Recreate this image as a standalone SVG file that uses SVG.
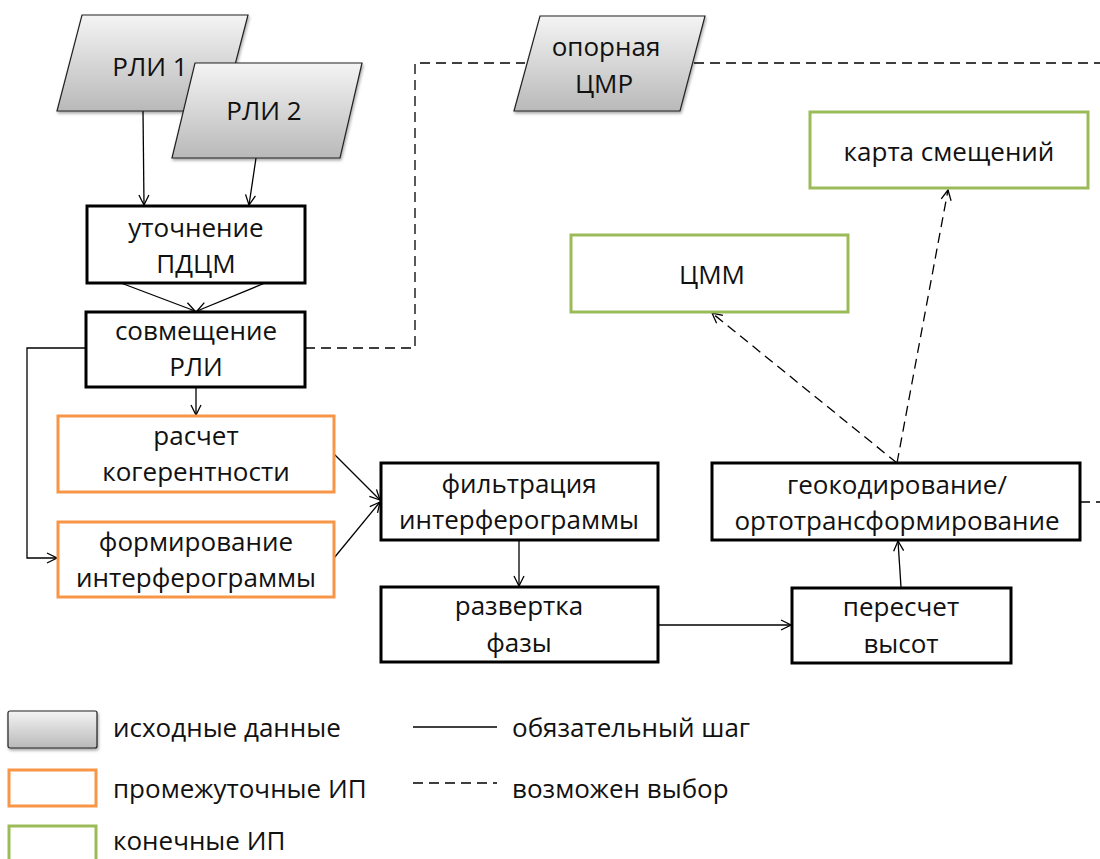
<svg xmlns="http://www.w3.org/2000/svg" width="1100" height="859" viewBox="0 0 1100 859">
<defs>
<linearGradient id="gray" x1="0" y1="0" x2="0" y2="1">
<stop offset="0" stop-color="#f4f4f4"/>
<stop offset="1" stop-color="#b9b9b9"/>
</linearGradient>
<filter id="sh" x="-10%" y="-10%" width="130%" height="130%">
<feDropShadow dx="1" dy="2" stdDeviation="1.5" flood-color="#000" flood-opacity="0.35"/>
</filter>
<marker id="ah" viewBox="0 0 12 12" refX="11" refY="6" markerWidth="12" markerHeight="12" markerUnits="userSpaceOnUse" orient="auto">
<path d="M1,1 L11,6 L1,11" fill="none" stroke="#000" stroke-width="1.3"/>
</marker>
</defs>
<style>
text{font-family:"Open Sans","Liberation Sans",sans-serif;font-size:26px;fill:#111;text-anchor:middle}
.leg{text-anchor:start;font-size:26px}
.blk{fill:#fff;stroke:#000;stroke-width:3}
.org{fill:#fff;stroke:#F79646;stroke-width:3}
.grn{fill:#fff;stroke:#9BBB59;stroke-width:3}
.par{fill:url(#gray);stroke:#222;stroke-width:1.2;filter:url(#sh)}
.ln{fill:none;stroke:#000;stroke-width:1.3}
.ds{fill:none;stroke:#000;stroke-width:1.3;stroke-dasharray:10 6}
</style>
<rect width="1100" height="859" fill="#fff"/>

<g id="connectors">
<line class="ln" x1="143" y1="111" x2="144" y2="205" marker-end="url(#ah)"/>
<line class="ln" x1="256" y1="158" x2="249" y2="205" marker-end="url(#ah)"/>
<line class="ln" x1="121" y1="283" x2="195" y2="311" marker-end="url(#ah)"/>
<line class="ln" x1="265" y1="283" x2="197" y2="311" marker-end="url(#ah)"/>
<line class="ln" x1="196" y1="387" x2="196" y2="415" marker-end="url(#ah)"/>
<polyline class="ln" points="86,348 27,348 27,558 57,558" marker-end="url(#ah)"/>
<line class="ln" x1="334" y1="454" x2="380" y2="500" marker-end="url(#ah)"/>
<line class="ln" x1="334" y1="558" x2="380" y2="502" marker-end="url(#ah)"/>
<line class="ln" x1="519" y1="540" x2="519" y2="586" marker-end="url(#ah)"/>
<line class="ln" x1="658" y1="625" x2="791" y2="625" marker-end="url(#ah)"/>
<line class="ln" x1="901" y1="587" x2="898" y2="541" marker-end="url(#ah)"/>
<polyline class="ds" points="305,348 415,348 415,63 525,63"/>
<line class="ds" x1="694" y1="63" x2="1100" y2="63"/>
<line class="ds" x1="1080" y1="502" x2="1100" y2="502"/>
<line class="ds" x1="897" y1="463" x2="712" y2="313" marker-end="url(#ah)"/>
<line class="ds" x1="897" y1="463" x2="948" y2="190" marker-end="url(#ah)"/>
</g>

<g id="rli1">
<polygon class="par" points="82,15 248,15 223,111 57,111"/>
<text x="150" y="76">РЛИ 1</text>
</g>
<g id="rli2">
<polygon class="par" points="195,63 362,63 340,158 172,158"/>
<text x="264" y="120">РЛИ 2</text>
</g>
<g id="cmr">
<polygon class="par" points="540,16 705,16 680,111 514,111"/>
<text x="606" y="56">опорная</text>
<text x="604" y="93">ЦМР</text>
</g>
<g id="utoch">
<rect class="blk" x="87" y="206" width="218" height="77"/>
<text x="196" y="237">уточнение</text>
<text x="196" y="273">ПДЦМ</text>
</g>
<g id="sovm">
<rect class="blk" x="86" y="312" width="219" height="75"/>
<text x="196" y="340">совмещение</text>
<text x="196" y="376">РЛИ</text>
</g>
<g id="raschet">
<rect class="org" x="58" y="416" width="276" height="76"/>
<text x="196" y="445">расчет</text>
<text x="196" y="481">когерентности</text>
</g>
<g id="form">
<rect class="org" x="58" y="522" width="276" height="75"/>
<text x="196" y="551">формирование</text>
<text x="196" y="587">интерферограммы</text>
</g>
<g id="filtr">
<rect class="blk" x="381" y="463" width="277" height="77"/>
<text x="519" y="493">фильтрация</text>
<text x="519" y="529">интерферограммы</text>
</g>
<g id="razv">
<rect class="blk" x="381" y="587" width="277" height="75"/>
<text x="519" y="615">развертка</text>
<text x="519" y="652">фазы</text>
</g>
<g id="peresch">
<rect class="blk" x="792" y="588" width="219" height="75"/>
<text x="901" y="616">пересчет</text>
<text x="901" y="653">высот</text>
</g>
<g id="geo">
<rect class="blk" x="712" y="463" width="368" height="77"/>
<text x="897" y="494">геокодирование/</text>
<text x="897" y="530">ортотрансформирование</text>
</g>
<g id="cmm">
<rect class="grn" x="571" y="235" width="277" height="77"/>
<text x="712" y="284">ЦММ</text>
</g>
<g id="karta">
<rect class="grn" x="810" y="112" width="278" height="76"/>
<text x="949" y="161">карта смещений</text>
</g>

<g id="legend">
<rect x="8" y="711" width="89" height="37" rx="2" fill="url(#gray)" stroke="#222" stroke-width="1.2" filter="url(#sh)"/>
<rect x="9" y="770" width="87" height="36" fill="#fff" stroke="#F79646" stroke-width="3"/>
<rect x="9" y="826" width="87" height="36" fill="#fff" stroke="#9BBB59" stroke-width="3"/>
<text class="leg" x="113" y="737">исходные данные</text>
<text class="leg" x="113" y="798">промежуточные ИП</text>
<text class="leg" x="113" y="850">конечные ИП</text>
<line class="ln" x1="413" y1="727" x2="497" y2="727"/>
<line class="ds" x1="413" y1="783" x2="497" y2="783"/>
<text class="leg" x="512" y="737">обязательный шаг</text>
<text class="leg" x="512" y="798">возможен выбор</text>
</g>
</svg>
